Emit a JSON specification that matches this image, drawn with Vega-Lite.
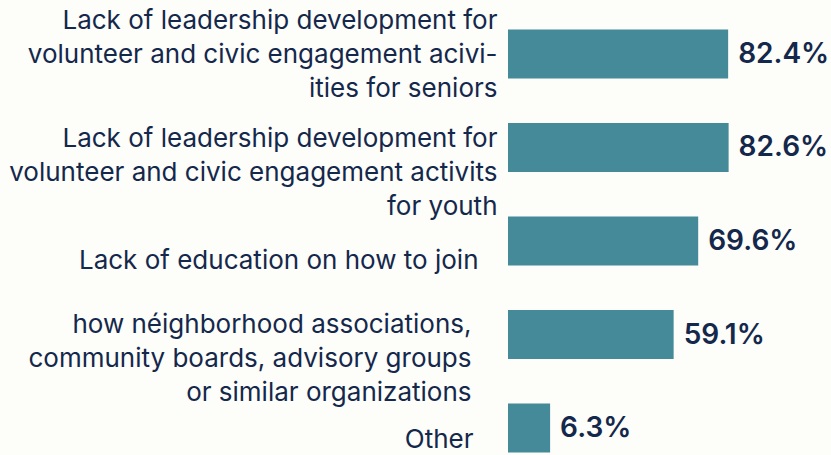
{
  "$schema": "https://vega.github.io/schema/vega-lite/v6.json",
  "autosize": {"type": "none"},
  "padding": {"left": 508, "top": 29.5, "right": 57, "bottom": 2.5},
  "width": 266,
  "height": 423,
  "background": "#fdfdfa",
  "config": {"view": {"stroke": null}, "font": "Inter"},
  "data": {
    "values": [
      {"label": "Lack of leadership development for|volunteer and civic engagement acivi-|ities for seniors", "pct": 0.824},
      {"label": "Lack of leadership development for|volunteer and civic engagement activits|for youth", "pct": 0.826},
      {"label": "Lack of education on how to join", "pct": 0.696},
      {"label": "how néighborhood associations,|community boards, advisory groups|or similar organizations", "pct": 0.591},
      {"label": "Other", "pct": 0.063}
    ]
  },
  "encoding": {
    "y": {
      "field": "label",
      "type": "nominal",
      "sort": null,
      "scale": {"paddingInner": 0.476, "paddingOuter": 0},
      "axis": {
        "title": null,
        "domain": false,
        "ticks": false,
        "labelExpr": "split(datum.label, '|')",
        "labelFont": "Inter",
        "labelFontSize": 26,
        "labelLineHeight": 34,
        "labelColor": "#14284b",
        "labelPadding": {
          "condition": [
            {"test": "indexof(datum.value, 'join') >= 0", "value": 30},
            {"test": "indexof(datum.value, 'similar') >= 0", "value": 37},
            {"test": "datum.value == 'Other'", "value": 35}
          ],
          "value": 11
        },
        "labelBaseline": "middle",
        "labelOffset": {
          "condition": [
            {"test": "indexof(datum.value, 'seniors') >= 0", "value": -33},
            {"test": "indexof(datum.value, 'youth') >= 0", "value": -8},
            {"test": "indexof(datum.value, 'similar') >= 0", "value": -10},
            {"test": "indexof(datum.value, 'join') >= 0", "value": 20}
          ],
          "value": 12
        },
        "labelLimit": 0,
        "labelAlign": "right"
      }
    },
    "x": {
      "field": "pct",
      "type": "quantitative",
      "scale": {"domain": [-0.117, 1.02], "nice": false},
      "axis": null
    }
  },
  "layer": [
    {
      "mark": {"type": "bar", "color": "#448a99"},
      "encoding": {"x2": {"datum": -0.117}}
    },
    {
      "mark": {"type": "text", "align": "left", "baseline": "middle", "dx": 10, "dy": 1, "font": "Inter", "fontSize": 28, "fontWeight": 600, "color": "#14284b"},
      "encoding": {"text": {"field": "pct", "type": "quantitative", "format": ".1%"}}
    }
  ]
}
